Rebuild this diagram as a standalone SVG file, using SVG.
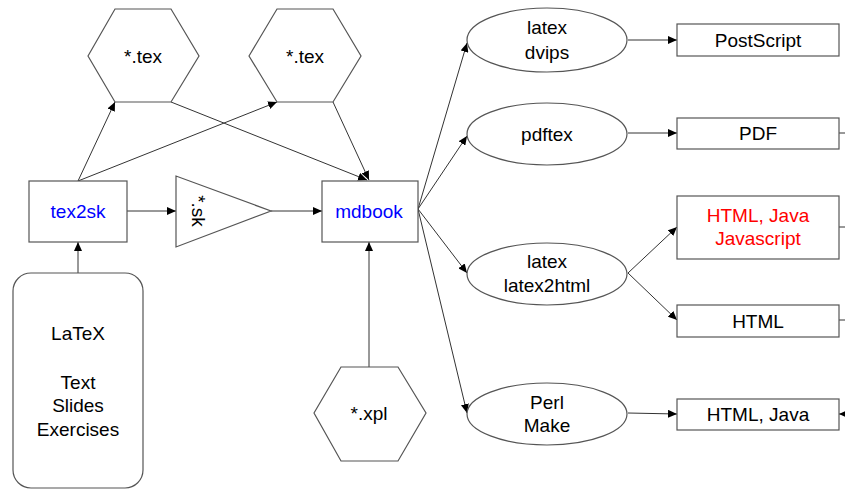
<svg xmlns="http://www.w3.org/2000/svg" width="845" height="489" viewBox="0 0 845 489">
<style>
.shape{fill:#fff;stroke:#555;stroke-width:1.2}
.t{font-family:"Liberation Sans",Arial,sans-serif;font-size:19px;fill:#000;text-anchor:middle}
.blue{fill:#0000ff}
.red{fill:#ff0000}
.c{stroke:#333;stroke-width:1;fill:none}
</style>
<defs>
<marker id="ah" markerWidth="9" markerHeight="8" refX="9" refY="4" orient="auto" markerUnits="userSpaceOnUse">
<path d="M0,0 L9,4 L0,8 z" fill="#000"/>
</marker>
</defs>
<rect width="845" height="489" fill="#fff"/>
<g id="connectors">
<line class="c" x1="78" y1="181" x2="115" y2="102" marker-end="url(#ah)"/>
<line class="c" x1="78" y1="181" x2="277" y2="102" marker-end="url(#ah)"/>
<line class="c" x1="171" y1="102" x2="367" y2="180" marker-end="url(#ah)"/>
<line class="c" x1="333" y1="102" x2="369" y2="180" marker-end="url(#ah)"/>
<line class="c" x1="127" y1="211" x2="176" y2="211" marker-end="url(#ah)"/>
<line class="c" x1="271" y1="211" x2="322" y2="211" marker-end="url(#ah)"/>
<line class="c" x1="78" y1="273" x2="78" y2="242" marker-end="url(#ah)"/>
<line class="c" x1="369" y1="367" x2="369" y2="242" marker-end="url(#ah)"/>
<line class="c" x1="418" y1="209" x2="467" y2="43" marker-end="url(#ah)"/>
<line class="c" x1="418" y1="209" x2="467" y2="136" marker-end="url(#ah)"/>
<line class="c" x1="418" y1="209" x2="467" y2="273" marker-end="url(#ah)"/>
<line class="c" x1="418" y1="209" x2="467" y2="413" marker-end="url(#ah)"/>
<line class="c" x1="628" y1="40" x2="677" y2="40" marker-end="url(#ah)"/>
<line class="c" x1="628" y1="133" x2="677" y2="133" marker-end="url(#ah)"/>
<line class="c" x1="628" y1="273" x2="677" y2="227" marker-end="url(#ah)"/>
<line class="c" x1="628" y1="273" x2="677" y2="320" marker-end="url(#ah)"/>
<line class="c" x1="628" y1="413" x2="677" y2="414" marker-end="url(#ah)"/>
<line class="c" x1="839" y1="133" x2="850" y2="133"/>
<line class="c" x1="839" y1="227" x2="850" y2="227"/>
<line class="c" x1="839" y1="320" x2="850" y2="320"/>
<line class="c" x1="855" y1="414" x2="839" y2="414" marker-end="url(#ah)"/>
</g>
<g id="hex1">
<polygon class="shape" points="88,56 115,9 171,9 199,56 171,102 115,102"/>
<text class="t" x="143" y="63">*.tex</text>
</g>
<g id="hex2">
<polygon class="shape" points="249,56 277,9 333,9 361,56 333,102 277,102"/>
<text class="t" x="305" y="63">*.tex</text>
</g>
<g id="tex2sk">
<rect class="shape" x="29" y="181" width="98" height="61"/>
<text class="t blue" x="78" y="218">tex2sk</text>
</g>
<g id="sk">
<polygon class="shape" points="176,176 176,247 271,211"/>
<text class="t" transform="translate(199,211) rotate(90)" y="7">*.sk</text>
</g>
<g id="mdbook">
<rect class="shape" x="322" y="181" width="96" height="61"/>
<text class="t blue" x="369" y="218">mdbook</text>
</g>
<g id="xpl">
<polygon class="shape" points="314,413 341,367 398,367 426,413 398,461 341,461"/>
<text class="t" x="369" y="420">*.xpl</text>
</g>
<g id="latexsrc">
<rect class="shape" x="13" y="273" width="130" height="215" rx="18" ry="18"/>
<text class="t" x="78" y="340">LaTeX</text>
<text class="t" x="78" y="389">Text</text>
<text class="t" x="78" y="412">Slides</text>
<text class="t" x="78" y="436">Exercises</text>
</g>
<g id="dvips">
<ellipse class="shape" cx="547" cy="40" rx="80" ry="32"/>
<text class="t" x="547" y="34">latex</text>
<text class="t" x="547" y="59">dvips</text>
</g>
<g id="pdftex">
<ellipse class="shape" cx="547" cy="134" rx="80" ry="31"/>
<text class="t" x="547" y="141">pdftex</text>
</g>
<g id="latex2html">
<ellipse class="shape" cx="547" cy="274" rx="80" ry="31"/>
<text class="t" x="547" y="268">latex</text>
<text class="t" x="547" y="292">latex2html</text>
</g>
<g id="perl">
<ellipse class="shape" cx="547" cy="414" rx="80" ry="31"/>
<text class="t" x="547" y="409">Perl</text>
<text class="t" x="547" y="432">Make</text>
</g>
<g id="postscript">
<rect class="shape" x="677" y="24" width="162" height="32"/>
<text class="t" x="758" y="47">PostScript</text>
</g>
<g id="pdf">
<rect class="shape" x="677" y="118" width="162" height="31"/>
<text class="t" x="758" y="140">PDF</text>
</g>
<g id="htmljs">
<rect class="shape" x="677" y="196" width="162" height="63"/>
<text class="t red" x="758" y="222">HTML, Java</text>
<text class="t red" x="758" y="245">Javascript</text>
</g>
<g id="html">
<rect class="shape" x="677" y="305" width="162" height="32"/>
<text class="t" x="758" y="328">HTML</text>
</g>
<g id="htmljava">
<rect class="shape" x="677" y="399" width="162" height="31"/>
<text class="t" x="758" y="421">HTML, Java</text>
</g>
</svg>
